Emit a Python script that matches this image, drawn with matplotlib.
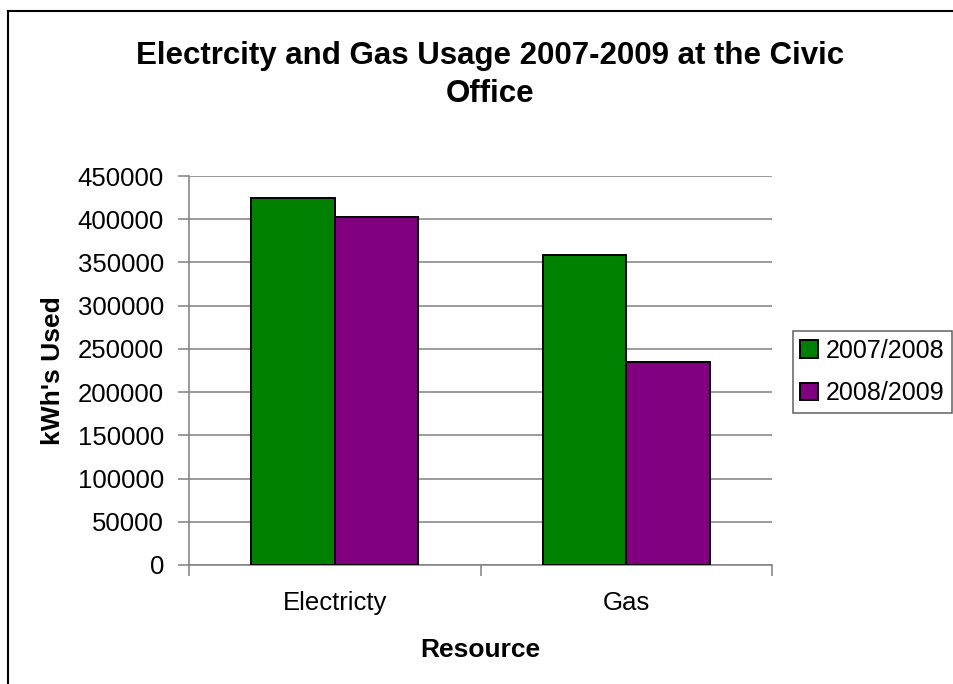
import numpy as np
import matplotlib.pyplot as plt
from matplotlib.lines import Line2D

resources = ["Electricty", "Gas"]
years = ["2007/2008", "2008/2009"]
usage_0708 = [424000, 359000]
usage_0809 = [403000, 234500]
y_ticks = list(range(0, 450001, 50000))

plt.rcParams['font.family'] = ['Liberation Sans', 'DejaVu Sans']

fig = plt.figure(figsize=(9.54, 6.84), dpi=100)
ax = fig.add_axes([189 / 954, 119 / 684, 583 / 954, 389 / 684])

# two bars per category, Excel-style gap width of 150%
x = np.arange(len(resources))
w = 1 / 3.5
ax.bar(x - w / 2, usage_0708, w, color='#008000', edgecolor='black',
       linewidth=1.4, label=years[0], zorder=3)
ax.bar(x + w / 2, usage_0809, w, color='#800080', edgecolor='black',
       linewidth=1.4, label=years[1], zorder=3)

ax.set_xlim(-0.5, len(resources) - 0.5)
ax.set_ylim(0, 450000)
ax.set_yticks(y_ticks)
ax.set_yticklabels([str(v) for v in y_ticks])
ax.yaxis.grid(True, color='#808080', linewidth=1.1, zorder=0)
ax.set_axisbelow(True)

# category boundaries get tick marks, labels sit between them
ax.set_xticks(np.arange(-0.5, len(resources), 1.0))
ax.set_xticklabels([])
ax.set_xticks(x, minor=True)
ax.set_xticklabels(resources, minor=True)
ax.tick_params(axis='x', which='major', direction='out', length=8, width=1.1, color='#808080')
ax.tick_params(axis='x', which='minor', length=0, pad=19, labelsize=18.5)
ax.tick_params(axis='y', direction='out', length=8, width=1.1, color='#808080',
               labelsize=18.5, pad=10)

for side in ['top', 'right']:
    ax.spines[side].set_visible(False)
for side in ['left', 'bottom']:
    ax.spines[side].set_color('#808080')
    ax.spines[side].set_linewidth(1.1)

ax.set_xlabel('Resource', fontsize=19, fontweight='bold', labelpad=16)
ax.set_ylabel("kWh's Used", fontsize=19, fontweight='bold', labelpad=9)

fig.text(490 / 954, 1 - 75 / 684, 'Electrcity and Gas Usage 2007-2009 at the Civic\nOffice',
         ha='center', va='center', fontsize=22.5, fontweight='bold', linespacing=1.35)

leg = fig.legend(loc='upper left', bbox_to_anchor=(793 / 954, 1 - 331 / 684),
                 fontsize=18, frameon=True, fancybox=False, framealpha=1,
                 edgecolor='#606060', borderpad=0.3, handlelength=0.7,
                 handleheight=0.7, handletextpad=0.3, labelspacing=0.75,
                 borderaxespad=0)
leg.get_frame().set_linewidth(1.1)

# chart frame
fig.add_artist(Line2D([8 / 954, 1], [1 - 11 / 684] * 2, color='black', linewidth=1.5))
fig.add_artist(Line2D([8 / 954] * 2, [0, 1 - 11 / 684], color='black', linewidth=1.5))

fig.savefig('out.png', dpi=100, facecolor='white')
